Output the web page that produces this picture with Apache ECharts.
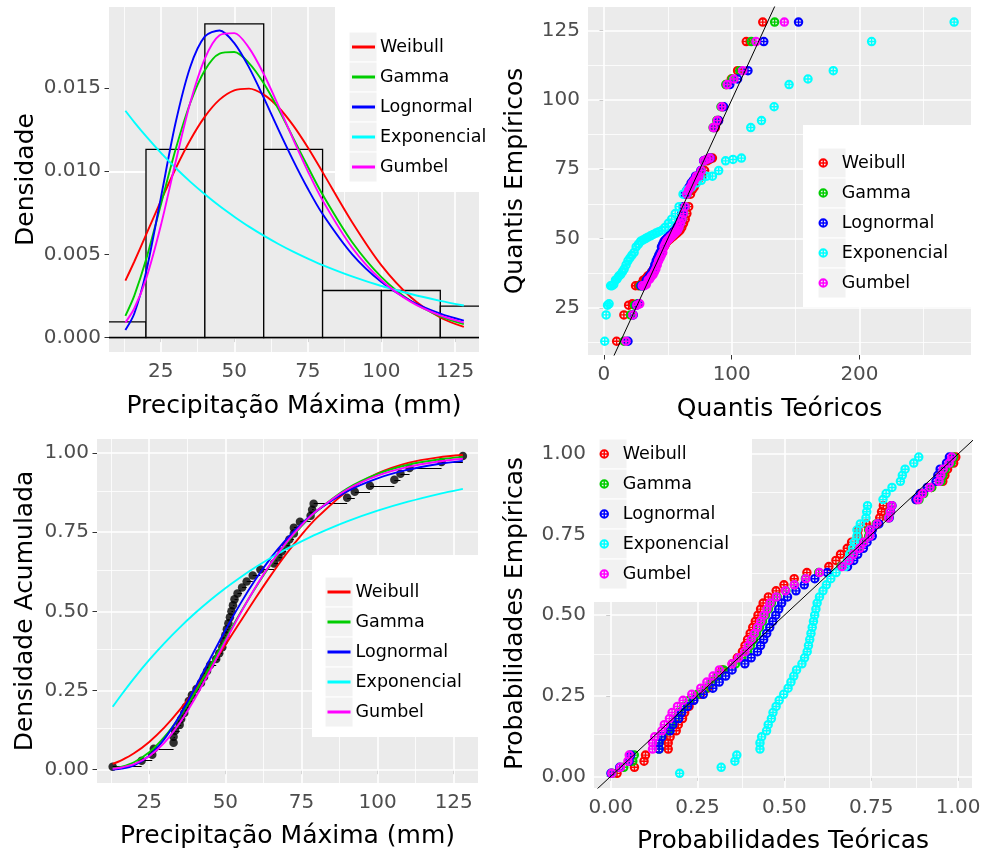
<!DOCTYPE html>
<html><head><meta charset="utf-8">
<script src="https://cdn.jsdelivr.net/npm/echarts@6/dist/echarts.min.js"></script>
<style>html,body{margin:0;padding:0;background:#fff}#c{width:983px;height:850px}</style>
</head><body><div id="c"></div>
<script>
const FONT = 'DejaVu Sans';
const distNames = ['Weibull', 'Gamma', 'Lognormal', 'Exponencial', 'Gumbel'];
const distColors = ['#FF0000', '#00CD00', '#0000FF', '#00FFFF', '#FF00FF'];

// observed (sorted) maximum precipitation, mm
const obsData = [13, 22.5, 26, 26.5, 33, 33, 33.5, 35, 35.5, 36.5, 37, 38, 39, 40.5, 42, 43, 44, 45, 47, 48, 49, 49.5, 50, 50.5, 51, 51.5, 52, 52.5, 53, 54, 55.5, 57, 59, 61.5, 66, 67.5, 68.5, 70, 71, 72.5, 72.5, 74.5, 78, 78.5, 79, 90, 92.5, 97.5, 105.5, 107.5, 110.5, 121, 128];
// empirical probabilities
const obsProb = [0.0094, 0.0283, 0.0472, 0.0660, 0.0849, 0.1038, 0.1226, 0.1415, 0.1604, 0.1792, 0.1981, 0.2170, 0.2358, 0.2547, 0.2736, 0.2925, 0.3113, 0.3302, 0.3491, 0.3679, 0.3868, 0.4057, 0.4245, 0.4434, 0.4623, 0.4811, 0.5000, 0.5189, 0.5377, 0.5566, 0.5755, 0.5943, 0.6132, 0.6321, 0.6509, 0.6698, 0.6887, 0.7075, 0.7264, 0.7453, 0.7642, 0.7830, 0.8019, 0.8208, 0.8396, 0.8585, 0.8774, 0.8962, 0.9151, 0.9340, 0.9528, 0.9717, 0.9906];

// histogram
const histEdges = [0, 20, 40, 60, 80, 100, 120, 140];
const histDensity = [0.000943, 0.011321, 0.018868, 0.011321, 0.002830, 0.002830, 0.001887];

// fitted curves
const curveX = [13, 16, 20, 25, 30, 35, 40, 45, 50, 55, 60, 65, 70, 75, 80, 90, 100, 110, 120, 128];
const densWeibull = [0.00342, 0.00456, 0.00617, 0.00820, 0.01014, 0.01187, 0.01329, 0.01431, 0.01487, 0.01497, 0.01461, 0.01385, 0.01276, 0.01143, 0.00995, 0.00695, 0.00434, 0.00243, 0.00121, 0.00064];
const densGamma = [0.00131, 0.00251, 0.00468, 0.00796, 0.01128, 0.01409, 0.01608, 0.01708, 0.01717, 0.01651, 0.01530, 0.01374, 0.01201, 0.01027, 0.00860, 0.00575, 0.00364, 0.00220, 0.00128, 0.00081];
const densLognormal = [0.00045, 0.00143, 0.00392, 0.00836, 0.01287, 0.01626, 0.01811, 0.01847, 0.01771, 0.01625, 0.01443, 0.01251, 0.01066, 0.00895, 0.00743, 0.00502, 0.00334, 0.00220, 0.00144, 0.00102];
const densExponencial = [0.01364, 0.01296, 0.01211, 0.01112, 0.01021, 0.00938, 0.00862, 0.00791, 0.00727, 0.00667, 0.00613, 0.00563, 0.00517, 0.00475, 0.00436, 0.00368, 0.00310, 0.00262, 0.00221, 0.00193];
const densGumbel = [0.00091, 0.00175, 0.00351, 0.00671, 0.01051, 0.01410, 0.01678, 0.01818, 0.01831, 0.01742, 0.01585, 0.01394, 0.01193, 0.01000, 0.00825, 0.00542, 0.00345, 0.00215, 0.00133, 0.00090];

const cdfWeibull = [0.0183, 0.0303, 0.0517, 0.0876, 0.1335, 0.1887, 0.2517, 0.3209, 0.3940, 0.4688, 0.5430, 0.6143, 0.6809, 0.7415, 0.7949, 0.8793, 0.9352, 0.9685, 0.9861, 0.9933];
const cdfGamma = [0.0038, 0.0094, 0.0236, 0.0549, 0.1033, 0.1670, 0.2428, 0.3261, 0.4121, 0.4966, 0.5763, 0.6490, 0.7134, 0.7691, 0.8162, 0.8874, 0.9337, 0.9626, 0.9794, 0.9876];
const cdfLognormal = [0.0008, 0.0034, 0.0137, 0.0440, 0.0973, 0.1706, 0.2575, 0.3497, 0.4404, 0.5251, 0.6018, 0.6693, 0.7271, 0.7761, 0.8173, 0.8788, 0.9200, 0.9472, 0.9652, 0.9750];
const cdfExponencial = [0.1985, 0.2383, 0.2885, 0.3465, 0.3998, 0.4487, 0.4937, 0.5350, 0.5729, 0.6077, 0.6397, 0.6691, 0.6961, 0.7209, 0.7437, 0.7838, 0.8176, 0.8461, 0.8702, 0.8867];
const cdfGumbel = [0.0032, 0.0071, 0.0173, 0.0425, 0.0855, 0.1473, 0.2250, 0.3129, 0.4046, 0.4943, 0.5776, 0.6522, 0.7169, 0.7717, 0.8172, 0.8847, 0.9284, 0.9560, 0.9731, 0.9818];

// theoretical quantiles (Q-Q)
const qqWeibull = [9.9, 15.6, 19.3, 22.2, 24.7, 26.9, 28.9, 30.8, 32.5, 34.2, 35.8, 37.3, 38.8, 40.2, 41.6, 43.0, 44.3, 45.7, 47.0, 48.2, 49.5, 50.8, 52.0, 53.3, 54.6, 55.8, 57.1, 58.4, 59.6, 60.9, 62.3, 63.6, 64.9, 66.3, 67.7, 69.1, 70.6, 72.1, 73.7, 75.3, 77.0, 78.8, 80.7, 82.7, 84.9, 87.2, 89.7, 92.6, 95.8, 99.7, 104.6, 111.4, 124.3];
const qqGamma = [15.7, 20.8, 23.9, 26.3, 28.3, 30.1, 31.7, 33.2, 34.6, 35.9, 37.2, 38.5, 39.6, 40.8, 42.0, 43.1, 44.2, 45.3, 46.4, 47.5, 48.6, 49.7, 50.8, 51.9, 53.0, 54.1, 55.3, 56.4, 57.6, 58.8, 60.0, 61.2, 62.5, 63.8, 65.1, 66.6, 68.0, 69.5, 71.1, 72.8, 74.5, 76.4, 78.4, 80.5, 82.9, 85.4, 88.3, 91.6, 95.4, 100.2, 106.3, 115.3, 133.6];
const qqLognormal = [18.8, 22.9, 25.4, 27.3, 29.0, 30.5, 31.9, 33.2, 34.4, 35.5, 36.6, 37.7, 38.8, 39.8, 40.9, 41.9, 42.9, 44.0, 45.0, 46.0, 47.0, 48.1, 49.1, 50.2, 51.3, 52.4, 53.5, 54.6, 55.8, 57.0, 58.2, 59.5, 60.8, 62.1, 63.5, 65.0, 66.6, 68.2, 69.9, 71.7, 73.7, 75.8, 78.0, 80.5, 83.2, 86.2, 89.7, 93.7, 98.5, 104.6, 112.7, 125.1, 152.3];
const qqExponencial = [0.6, 1.7, 2.8, 4.0, 5.2, 6.4, 7.7, 9.0, 10.3, 11.6, 13.0, 14.4, 15.8, 17.3, 18.8, 20.3, 21.9, 23.6, 25.2, 27.0, 28.7, 30.6, 32.5, 34.4, 36.5, 38.6, 40.7, 43.0, 45.4, 47.8, 50.4, 53.0, 55.8, 58.8, 61.9, 65.1, 68.6, 72.3, 76.2, 80.4, 84.9, 89.8, 95.2, 101.0, 107.6, 114.9, 123.3, 133.2, 144.9, 159.7, 179.5, 209.5, 274.1];
const qqGumbel = [17.2, 22.6, 25.7, 28.0, 30.0, 31.6, 33.2, 34.6, 35.9, 37.2, 38.4, 39.5, 40.6, 41.7, 42.8, 43.9, 44.9, 46.0, 47.0, 48.0, 49.0, 50.1, 51.1, 52.1, 53.2, 54.3, 55.3, 56.4, 57.6, 58.7, 59.9, 61.1, 62.3, 63.6, 64.9, 66.3, 67.7, 69.2, 70.8, 72.5, 74.3, 76.2, 78.2, 80.4, 82.9, 85.6, 88.7, 92.2, 96.4, 101.7, 108.6, 119.0, 141.2];

// theoretical probabilities (P-P)
const ppWeibull = [0.0183, 0.0684, 0.0960, 0.1003, 0.1656, 0.1656, 0.1712, 0.1886, 0.1946, 0.2068, 0.2130, 0.2256, 0.2385, 0.2584, 0.2788, 0.2926, 0.3067, 0.3209, 0.3498, 0.3645, 0.3792, 0.3866, 0.3940, 0.4015, 0.4089, 0.4164, 0.4239, 0.4314, 0.4389, 0.4539, 0.4763, 0.4987, 0.5283, 0.5648, 0.6280, 0.6483, 0.6615, 0.6809, 0.6935, 0.7120, 0.7120, 0.7357, 0.7744, 0.7797, 0.7849, 0.8793, 0.8958, 0.9237, 0.9559, 0.9619, 0.9697, 0.9873, 0.9933];
const ppGamma = [0.0043, 0.0376, 0.0636, 0.0680, 0.1393, 0.1393, 0.1458, 0.1663, 0.1733, 0.1878, 0.1953, 0.2104, 0.2259, 0.2498, 0.2744, 0.2911, 0.3080, 0.3251, 0.3594, 0.3767, 0.3940, 0.4026, 0.4112, 0.4198, 0.4284, 0.4370, 0.4455, 0.4540, 0.4625, 0.4793, 0.5043, 0.5287, 0.5605, 0.5987, 0.6626, 0.6824, 0.6951, 0.7136, 0.7254, 0.7426, 0.7426, 0.7642, 0.7986, 0.8032, 0.8077, 0.8875, 0.9010, 0.9239, 0.9508, 0.9560, 0.9629, 0.9799, 0.9868];
const ppLognormal = [0.0008, 0.0260, 0.0528, 0.0576, 0.1394, 0.1394, 0.1470, 0.1708, 0.1790, 0.1958, 0.2043, 0.2217, 0.2394, 0.2665, 0.2940, 0.3125, 0.3310, 0.3494, 0.3862, 0.4044, 0.4224, 0.4314, 0.4403, 0.4491, 0.4578, 0.4665, 0.4752, 0.4837, 0.4922, 0.5089, 0.5334, 0.5572, 0.5875, 0.6234, 0.6818, 0.6996, 0.7110, 0.7274, 0.7379, 0.7529, 0.7529, 0.7718, 0.8017, 0.8057, 0.8096, 0.8788, 0.8907, 0.9113, 0.9365, 0.9416, 0.9484, 0.9666, 0.9750];
const ppExponencial = [0.1985, 0.3181, 0.3575, 0.3630, 0.4297, 0.4297, 0.4345, 0.4487, 0.4534, 0.4626, 0.4672, 0.4762, 0.4850, 0.4980, 0.5106, 0.5189, 0.5270, 0.5350, 0.5505, 0.5581, 0.5656, 0.5693, 0.5729, 0.5765, 0.5801, 0.5837, 0.5872, 0.5907, 0.5942, 0.6010, 0.6111, 0.6209, 0.6336, 0.6488, 0.6747, 0.6829, 0.6883, 0.6961, 0.7012, 0.7088, 0.7088, 0.7185, 0.7348, 0.7370, 0.7393, 0.7838, 0.7928, 0.8097, 0.8339, 0.8394, 0.8474, 0.8724, 0.8867];
const ppGumbel = [0.0032, 0.0279, 0.0496, 0.0534, 0.1204, 0.1204, 0.1268, 0.1473, 0.1544, 0.1691, 0.1767, 0.1923, 0.2084, 0.2334, 0.2593, 0.2769, 0.2948, 0.3129, 0.3495, 0.3679, 0.3863, 0.3954, 0.4046, 0.4138, 0.4229, 0.4320, 0.4410, 0.4500, 0.4590, 0.4767, 0.5029, 0.5286, 0.5616, 0.6010, 0.6659, 0.6858, 0.6985, 0.7169, 0.7286, 0.7455, 0.7455, 0.7666, 0.8000, 0.8044, 0.8088, 0.8847, 0.8976, 0.9193, 0.9452, 0.9502, 0.9570, 0.9743, 0.9818];

// tick values
const ticksPrecip = [25, 50, 75, 100, 125];
const minorPrecip = [12.5, 37.5, 62.5, 87.5, 112.5];
const ticksDens = [0, 0.005, 0.010, 0.015];
const minorDens = [0.0025, 0.0075, 0.0125, 0.0175];
const ticksQQx = [0, 100, 200];
const minorQQx = [50, 150, 250];
const ticksQQy = [25, 50, 75, 100, 125];
const minorQQy = [12.5, 37.5, 62.5, 87.5, 112.5];
const ticksProb = [0, 0.25, 0.5, 0.75, 1];
const minorProb = [0.125, 0.375, 0.625, 0.875];
const identityLine = [-50, 400];

const densAll = [densWeibull, densGamma, densLognormal, densExponencial, densGumbel];
const cdfAll = [cdfWeibull, cdfGamma, cdfLognormal, cdfExponencial, cdfGumbel];
const qqAll = [qqWeibull, qqGamma, qqLognormal, qqExponencial, qqGumbel];
const ppAll = [ppWeibull, ppGamma, ppLognormal, ppExponencial, ppGumbel];

const plusPath = 'path://M0,10A10,10 0 1,1 20,10A10,10 0 1,1 0,10Z M4.4,10A5.6,5.6 0 1,0 15.6,10A5.6,5.6 0 1,0 4.4,10Z M4.4,8.5H15.6V11.5H4.4Z M8.5,4.4H11.5V15.6H8.5Z';

const chart = echarts.init(document.getElementById('c'));

function mkAxis(gi, min, max, ticks, fmt, name, nameGap, labelMargin) {
  return {
    type: 'value', gridIndex: gi, min: min, max: max,
    splitLine: { show: false }, axisLine: { show: false },
    axisTick: { show: true, customValues: ticks, length: 4.5, lineStyle: { color: '#333333', width: 1 } },
    axisLabel: { customValues: ticks, color: '#4D4D4D', fontSize: 20, fontFamily: FONT, margin: labelMargin, formatter: fmt },
    name: name, nameLocation: 'middle', nameGap: nameGap, nameMoveOverlap: false,
    nameTextStyle: { fontSize: 25, color: '#000', fontFamily: FONT }
  };
}
function gridLines(gi, xs, ys, width) {
  return {
    type: 'line', xAxisIndex: gi, yAxisIndex: gi, data: [], silent: true, z: 1,
    markLine: {
      silent: true, symbol: ['none', 'none'], label: { show: false }, z: 1, animation: false,
      lineStyle: { color: '#FFFFFF', width: width, type: 'solid' },
      emphasis: { disabled: true },
      data: xs.map(v => ({ xAxis: v })).concat(ys.map(v => ({ yAxis: v })))
    }
  };
}

const series = [];
// gridlines
series.push(gridLines(0, minorPrecip, minorDens, 0.8), gridLines(0, ticksPrecip, ticksDens, 1.6));
series.push(gridLines(1, minorQQx, minorQQy, 0.8), gridLines(1, ticksQQx, ticksQQy, 1.6));
series.push(gridLines(2, minorPrecip, minorProb, 0.8), gridLines(2, ticksPrecip, ticksProb, 1.6));
series.push(gridLines(3, minorProb, minorProb, 0.8), gridLines(3, ticksProb, ticksProb, 1.6));

// histogram
series.push({
  type: 'custom', xAxisIndex: 0, yAxisIndex: 0, clip: true, z: 2, silent: true,
  data: histDensity.map((d, i) => [histEdges[i], histEdges[i + 1], d]),
  renderItem: function (params, api) {
    const p0 = api.coord([api.value(0), api.value(2)]);
    const p1 = api.coord([api.value(1), 0]);
    return { type: 'rect', shape: { x: p0[0], y: p0[1], width: p1[0] - p0[0], height: p1[1] - p0[1] },
      style: { fill: '#EBEBEB', stroke: '#000000', lineWidth: 1.3 } };
  },
  markLine: { silent: true, symbol: ['none', 'none'], label: { show: false }, z: 3, animation: false,
    lineStyle: { color: '#000', width: 1.3, type: 'solid' }, data: [{ yAxis: 0 }] }
});

distNames.forEach((nm, k) => {
  series.push({ type: 'line', name: nm, xAxisIndex: 0, yAxisIndex: 0, z: 4, smooth: 0.3, showSymbol: false, silent: true,
    lineStyle: { color: distColors[k], width: 1.9 }, itemStyle: { color: distColors[k] },
    data: curveX.map((x, i) => [x, densAll[k][i]]) });
});

// Q-Q
distNames.forEach((nm, k) => {
  series.push({ type: 'scatter', name: nm, xAxisIndex: 1, yAxisIndex: 1, z: 3, symbol: plusPath, symbolSize: 9.5, silent: true,
    itemStyle: { color: distColors[k], opacity: 1 },
    data: qqAll[k].map((x, i) => [x, obsData[i]]) });
});
series.push({ type: 'line', xAxisIndex: 1, yAxisIndex: 1, z: 4, showSymbol: false, silent: true,
  lineStyle: { color: '#000', width: 1 }, data: identityLine.map(v => [v, v]) });

// CDF
series.push({ type: 'lines', coordinateSystem: 'cartesian2d', xAxisIndex: 2, yAxisIndex: 2, z: 3, silent: true,
  lineStyle: { color: '#000', width: 1, opacity: 1 },
  data: obsData.slice(0, -1).map((x, i) => ({ coords: [[x, obsProb[i]], [obsData[i + 1], obsProb[i]]] })) });
series.push({ type: 'scatter', xAxisIndex: 2, yAxisIndex: 2, z: 3, symbol: 'circle', symbolSize: 8.5, silent: true,
  itemStyle: { color: '#000' }, data: obsData.map((x, i) => [x, obsProb[i]]) });
distNames.forEach((nm, k) => {
  series.push({ type: 'line', name: nm, xAxisIndex: 2, yAxisIndex: 2, z: 4, smooth: 0.3, showSymbol: false, silent: true,
    lineStyle: { color: distColors[k], width: 1.9 }, itemStyle: { color: distColors[k] },
    data: curveX.map((x, i) => [x, cdfAll[k][i]]) });
});

// P-P
distNames.forEach((nm, k) => {
  series.push({ type: 'scatter', name: nm, xAxisIndex: 3, yAxisIndex: 3, z: 3, symbol: plusPath, symbolSize: 9.5, silent: true,
    itemStyle: { color: distColors[k], opacity: 1 },
    data: ppAll[k].map((x, i) => [x, obsProb[i]]) });
});
series.push({ type: 'line', xAxisIndex: 3, yAxisIndex: 3, z: 4, showSymbol: false, silent: true,
  lineStyle: { color: '#000', width: 1 }, data: identityLine.map(v => [v, v]) });

// legends
function mkLegend(left, top, isPoint) {
  return {
    orient: 'vertical', left: left, top: top, padding: 0, itemGap: 0, z: 20, selectedMode: false,
    itemWidth: isPoint ? 27 : 23, itemHeight: isPoint ? 9.5 : 3,
    textStyle: { fontSize: 17.5, fontFamily: FONT, color: '#000', lineHeight: 30 },
    data: distNames.map((nm, k) => ({ name: nm, icon: isPoint ? plusPath : 'rect', itemStyle: { color: distColors[k] } }))
  };
}
const legendBoxes = [
  { box: [335, 7, 157, 185], keyX: 349, c0: 47 },
  { box: [803, 125, 168, 182], keyX: 818, c0: 163 },
  { box: [312, 555, 166, 182], keyX: 325, c0: 592 },
  { box: [594, 439, 158, 163], keyX: 599, c0: 454 }
];
const graphics = [];
legendBoxes.forEach(lb => {
  graphics.push({ type: 'rect', z: 10, silent: true, shape: { x: lb.box[0], y: lb.box[1], width: lb.box[2], height: lb.box[3] }, style: { fill: '#FFFFFF' } });
  for (let r = 0; r < 5; r++) {
    graphics.push({ type: 'rect', z: 11, silent: true, shape: { x: lb.keyX, y: lb.c0 - 15 + r * 30, width: 28, height: 30 },
      style: { fill: '#F2F2F2', stroke: '#FFFFFF', lineWidth: 1 } });
  }
});

const option = {
  animation: false,
  backgroundColor: '#FFFFFF',
  textStyle: { fontFamily: FONT },
  grid: [
    { left: 109, top: 7, width: 370, height: 345 },
    { left: 588, top: 7, width: 383, height: 348 },
    { left: 97, top: 439, width: 381, height: 344 },
    { left: 594, top: 439, width: 378, height: 349 }
  ].map(g => Object.assign(g, { show: true, backgroundColor: '#EBEBEB', borderWidth: 0, containLabel: false, outerBoundsMode: 'none' })),
  xAxis: [
    mkAxis(0, 7.43, 133.15, ticksPrecip, v => String(v), 'Precipitação Máxima (mm)', 42, 10),
    mkAxis(1, -12.5, 287.3, ticksQQx, v => String(v), 'Quantis Teóricos', 42, 10),
    mkAxis(2, 7.85, 132.97, ticksPrecip, v => String(v), 'Precipitação Máxima (mm)', 41, 10),
    mkAxis(3, -0.048, 1.040, ticksProb, v => v.toFixed(2), 'Probabilidades Teóricas', 41, 10)
  ],
  yAxis: [
    mkAxis(0, -0.000867, 0.01988, ticksDens, v => v.toFixed(3), 'Densidade', 70, 8),
    mkAxis(1, 8.05, 133.44, ticksQQy, v => String(v), 'Quantis Empíricos', 60, 8),
    mkAxis(2, -0.042, 1.044, ticksProb, v => v.toFixed(2), 'Densidade Acumulada', 59, 8),
    mkAxis(3, -0.036, 1.0465, ticksProb, v => v.toFixed(2), 'Probabilidades Empíricas', 66, 8)
  ],
  legend: [
    mkLegend(352, 32, false),
    mkLegend(818.5, 148, true),
    mkLegend(327.5, 577, false),
    mkLegend(599.5, 439, true)
  ],
  graphic: graphics,
  series: series
};
chart.setOption(option);
</script>
</body></html>
